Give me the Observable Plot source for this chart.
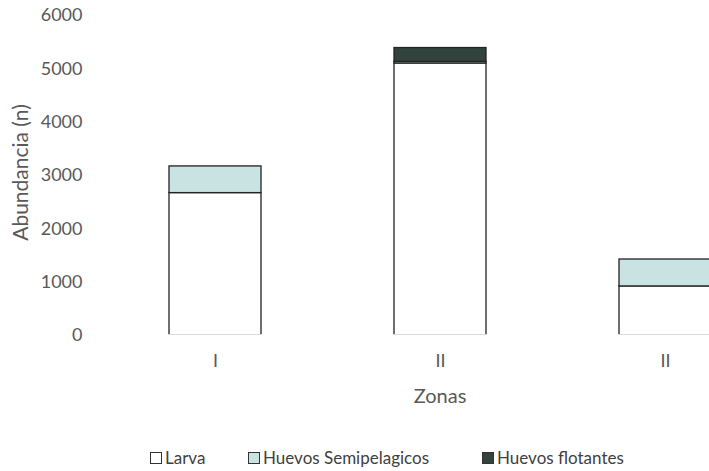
<!DOCTYPE html>
<html>
<head>
<meta charset="utf-8">
<script src="https://cdn.jsdelivr.net/npm/d3@7"></script>
<script src="https://cdn.jsdelivr.net/npm/@observablehq/plot@0.6"></script>
<style>
  html, body { margin: 0; padding: 0; background: #fff; overflow: hidden; }
  #chart { width: 709px; }
  .legend { position: relative; height: 41px; font-family: Lato, "Open Sans", sans-serif; font-size: 17px; color: #404040; }
  .legend .item { position: absolute; top: 17px; display: flex; align-items: center; white-space: nowrap; }
  .legend .sw { width: 12px; height: 12px; border: 1.3px solid #333; margin-right: 3px; box-sizing: border-box; }
</style>
</head>
<body>
<div id="chart"></div>
<script>
// Zone keys and the labels printed under each bar
const zones = ["z1", "z2", "z3"];
const zoneLabels = ["I", "II", "II"];

// Abundance per zone, by stage
const larva = [2670, 5100, 920];
const huevosSemipelagicos = [500, 30, 505];
const huevosFlotantes = [0, 260, 0];

const seriesNames = ["Larva", "Huevos Semipelagicos", "Huevos flotantes"];
const seriesFill = ["#ffffff", "#c9e2e2", "#32433d"];
const yTicks = [0, 1000, 2000, 3000, 4000, 5000, 6000];

const seriesValues = [larva, huevosSemipelagicos, huevosFlotantes];
const rows = [];
seriesNames.forEach((s, si) => {
  zones.forEach((z, zi) => {
    const v = seriesValues[si][zi];
    if (v > 0) rows.push({zone: z, serie: s, value: v});
  });
});

const font = "Lato, 'Open Sans', sans-serif";

const plot = Plot.plot({
  width: 709,
  height: 430,
  marginTop: 15,
  marginBottom: 95,
  marginLeft: 90,
  marginRight: 0,
  style: {fontFamily: font, fontSize: "18px", color: "#595959", background: "#fff"},
  x: {domain: zones, range: [34, 846], paddingInner: 0.593, paddingOuter: 0.593},
  y: {domain: [0, 6000]},
  color: {domain: seriesNames, range: seriesFill},
  marks: [
    Plot.barY(rows, Plot.stackY({
      x: "zone",
      y: "value",
      fill: "serie",
      order: seriesNames,
      stroke: "#222",
      strokeWidth: 1.3,
      clip: "frame"
    })),
    // hide the bottom edge of the outlined bars: no baseline in this chart
    Plot.ruleY([0], {stroke: "#fff", strokeWidth: 2.5}),
    Plot.axisY({ticks: yTicks, tickSize: 0, tickPadding: 8, label: null, tickFormat: d => String(d)}),
    Plot.axisX({tickSize: 0, tickPadding: 19, label: null, tickFormat: d => zoneLabels[zones.indexOf(d)]}),
    Plot.text(["Zonas"], {frameAnchor: "bottom", dx: 40, dy: 67, fill: "#595959", fontSize: 20}),
    Plot.text(["Abundancia (n)"], {frameAnchor: "left", textAnchor: "middle", dx: -69, dy: -3, rotate: -90, fill: "#595959", fontSize: 21})
  ]
});

document.getElementById("chart").appendChild(plot);

// legend below the chart
const legend = document.createElement("div");
legend.className = "legend";
const lefts = [150, 248, 482];
seriesNames.forEach((s, i) => {
  const item = document.createElement("div");
  item.className = "item";
  item.style.left = lefts[i] + "px";
  const sw = document.createElement("span");
  sw.className = "sw";
  sw.style.background = seriesFill[i];
  const t = document.createElement("span");
  t.textContent = s;
  item.appendChild(sw);
  item.appendChild(t);
  legend.appendChild(item);
});
document.getElementById("chart").appendChild(legend);
</script>
</body>
</html>
